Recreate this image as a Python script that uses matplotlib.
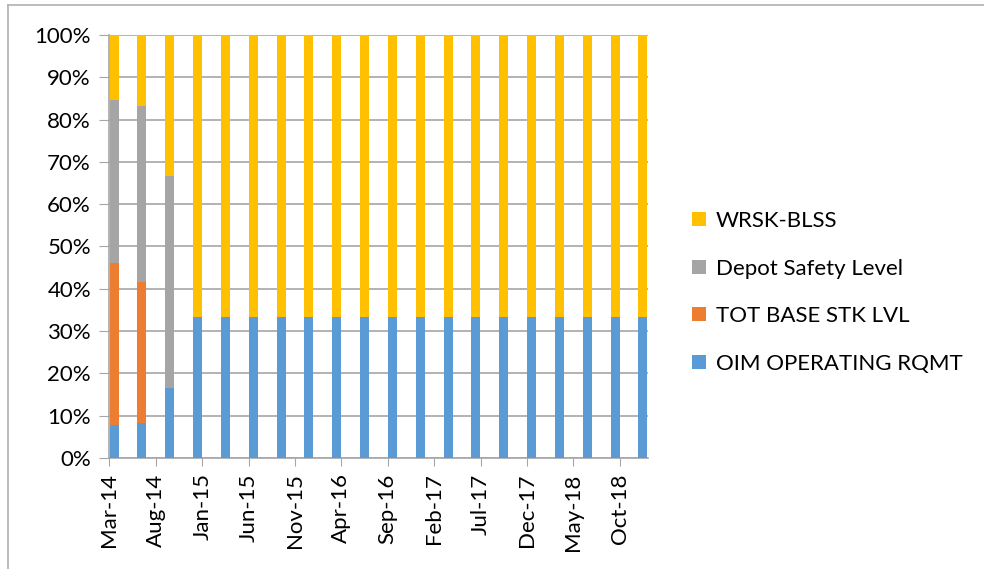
import matplotlib
matplotlib.use("Agg")
import matplotlib.pyplot as plt
from matplotlib.patches import Patch
from matplotlib.lines import Line2D
import numpy as np

plt.rcParams['font.family'] = ['Lato', 'DejaVu Sans']

# quarterly periods, month offset from Mar-14
months = [0, 3, 6, 9, 12, 15, 18, 21, 24, 27, 30, 33, 36, 39, 42, 45, 48, 51, 54, 57]
oim = [1, 1, 1, 1, 1, 1, 1, 1, 1, 1, 1, 1, 1, 1, 1, 1, 1, 1, 1, 1]
tot_base = [5, 4, 0, 0, 0, 0, 0, 0, 0, 0, 0, 0, 0, 0, 0, 0, 0, 0, 0, 0]
depot = [5, 5, 3, 0, 0, 0, 0, 0, 0, 0, 0, 0, 0, 0, 0, 0, 0, 0, 0, 0]
wrsk = [2, 2, 2, 2, 2, 2, 2, 2, 2, 2, 2, 2, 2, 2, 2, 2, 2, 2, 2, 2]

tick_months = [0, 5, 10, 15, 20, 25, 30, 35, 40, 45, 50, 55]
tick_labels = ['Mar-14', 'Aug-14', 'Jan-15', 'Jun-15', 'Nov-15', 'Apr-16',
               'Sep-16', 'Feb-17', 'Jul-17', 'Dec-17', 'May-18', 'Oct-18']

series = [("OIM OPERATING RQMT", oim, '#5b9bd5'),
          ("TOT BASE STK LVL", tot_base, '#ed7d31'),
          ("Depot Safety Level", depot, '#a5a5a5'),
          ("WRSK-BLSS", wrsk, '#ffc000')]

tot = np.sum([s[1] for s in series], axis=0).astype(float)

fig = plt.figure(figsize=(9.84, 5.69), dpi=100)
ax = fig.add_axes([109/984, 1 - 458/569, (648 - 109)/984, (458 - 35)/569])

x = np.array(months) + 0.5
bottom = np.zeros(len(months))
for name, vals, col in series:
    v = np.array(vals) / tot * 100
    ax.bar(x, v, width=0.98, bottom=bottom, color=col, label=name, zorder=3,
           edgecolor='none')
    bottom += v

FS = 16
ax.set_ylim(0, 100)
ax.set_xlim(-0.05, 58.05)
ax.set_yticks(np.arange(0, 101, 10))
ax.set_yticklabels([f"{v}%" for v in range(0, 101, 10)], fontsize=FS)
ax.set_xticks(tick_months)
ax.set_xticklabels(tick_labels, rotation=90, fontsize=FS)
ax.grid(axis='y', color='#a6a6a6', linewidth=1.2, zorder=0)
for s in ['top', 'right']:
    ax.spines[s].set_visible(False)
ax.spines['left'].set_color('#a6a6a6')
ax.spines['bottom'].set_color('#a6a6a6')
ax.spines['left'].set_linewidth(1.2)
ax.spines['bottom'].set_linewidth(1.2)
ax.tick_params(axis='y', length=7, color='#a6a6a6', pad=6)
ax.tick_params(axis='x', length=6, color='#a6a6a6', pad=5)

handles = [Patch(facecolor=c, label=n) for n, _, c in series[::-1]]
leg = fig.legend(handles=handles, loc='upper left', bbox_to_anchor=(672/984, 1 - 191/569),
                 frameon=False, fontsize=FS, handlelength=0.62, handleheight=0.62,
                 labelspacing=1.24, handletextpad=0.45)

# chart border (left and top visible)
fig.add_artist(Line2D([8/984, 8/984], [0, 1 - 5/569], transform=fig.transFigure,
                      color='#b0b0b0', linewidth=1.2))
fig.add_artist(Line2D([8/984, 1], [1 - 5/569, 1 - 5/569], transform=fig.transFigure,
                      color='#b0b0b0', linewidth=1.2))

fig.savefig("out.png", dpi=100)
